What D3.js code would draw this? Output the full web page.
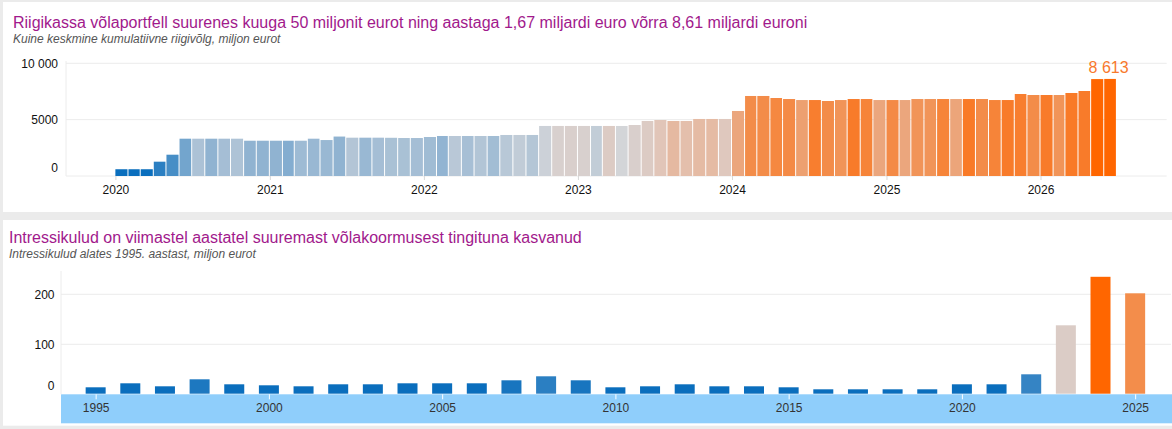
<!DOCTYPE html>
<html>
<head>
<meta charset="utf-8">
<script src="https://cdn.jsdelivr.net/npm/d3@7"></script>
<style>
  body { margin: 0; background: #ebebeb; font-family: "Liberation Sans", Arial, sans-serif; }
  svg { display: block; }
</style>
</head>
<body>
<svg id="chart" width="1172" height="429"></svg>
<script>
// Top chart: monthly average cumulative state debt, million euro (Jan 2020 .. Jun 2026)
const debtStart = [2020, 0];
const debtValues = [
    600, 600, 600, 1270, 1890, 3310, 3310, 3310, 3310, 3310, 3130, 3130,
    3130, 3130, 3130, 3310, 3190, 3500, 3400, 3400, 3400, 3390, 3370, 3370,
    3460, 3550, 3550, 3550, 3550, 3550, 3640, 3640, 3640, 4440, 4440, 4440,
    4440, 4440, 4440, 4440, 4525, 4880, 4970, 4880, 4880, 5060, 5060, 5060,
    5770, 7100, 7100, 6920, 6830, 6740, 6740, 6655, 6740, 6830, 6830, 6740,
    6740, 6740, 6830, 6830, 6830, 6830, 6830, 6830, 6740, 6740, 7276, 7187,
    7187, 7187, 7365, 7542, 8600, 8613
];
// colour value of each month (-1 blue ... 0 grey ... 1 orange)
const debtTone = [
    -1, -1, -1, -0.86, -0.74, -0.55, -0.31, -0.43, -0.34, -0.3, -0.43, -0.43,
    -0.43, -0.48, -0.37, -0.39, -0.39, -0.43, -0.26, -0.39, -0.34, -0.32, -0.32, -0.34,
    -0.36, -0.42, -0.21, -0.33, -0.27, -0.35, -0.22, -0.15, -0.25, -0.06, 0.09, 0.11,
    0.09, -0.14, 0.18, 0, 0.11, 0.18, 0.28, 0.38, 0.34, 0.37, 0.37, 0.23,
    0.52, 0.72, 0.72, 0.75, 0.73, 0.57, 0.82, 0.72, 0.66, 0.84, 0.78, 0.52,
    0.73, 0.52, 0.66, 0.66, 0.78, 0.53, 0.85, 0.72, 0.78, 0.84, 0.82, 0.72,
    0.84, 0.66, 0.85, 0.84, 1, 1
];
const debtTicks = [0, 5000, 10000];

// Bottom chart: yearly interest costs since 1995, million euro
const interestYears = d3.range(1995, 2026);
const interestValues = [
    14, 22, 16, 30, 20, 18, 16, 20, 20, 22,
    22, 22, 28, 36, 28, 14, 16, 20, 16, 16,
    14, 10, 10, 10, 10, 20, 20, 40, 138, 235, 202
];
// value stops for the blue / grey / orange colouring of the yearly bars
const interestColourStops = [22, 120, 235];
const interestTicks = [0, 100, 200];
const interestYearTicks = [1995, 2000, 2005, 2010, 2015, 2020, 2025];

const titleTop = 'Riigikassa võlaportfell suurenes kuuga 50 miljonit eurot ning aastaga 1,67 miljardi euro võrra 8,61 miljardi euroni';
const subTop = 'Kuine keskmine kumulatiivne riigivõlg, miljon eurot';
const titleBottom = 'Intressikulud on viimastel aastatel suuremast võlakoormusest tingituna kasvanud';
const subBottom = 'Intressikulud alates 1995. aastast, miljon eurot';

const palette = d3.scaleLinear()
    .domain([-1, -0.3, 0, 0.3, 1])
    .range(['#0a6ebd', '#aec3d6', '#d3d5d8', '#e2c4b6', '#ff6600']);

const numFmt = v => v >= 10000 ? d3.format(',')(v).replace(/,/g, ' ') : String(v);

const svg = d3.select('#chart');

// panels
svg.append('rect').attr('x', 3).attr('y', 2).attr('width', 1169).attr('height', 210).attr('fill', '#fff');
svg.append('rect').attr('x', 3).attr('y', 220).attr('width', 1169).attr('height', 205.7).attr('fill', '#fff');

function titles(x, y, title, sub) {
    svg.append('text')
        .attr('x', x).attr('y', y)
        .attr('font-size', 16)
        .attr('fill', '#a1198c')
        .text(title);
    svg.append('text')
        .attr('x', x).attr('y', y + 15)
        .attr('font-size', 12)
        .attr('font-style', 'italic')
        .attr('fill', '#555')
        .text(sub);
}

// ---------- top chart ----------
titles(13, 27.5, titleTop, subTop);

const months = debtValues.map((v, i) => ({
    date: new Date(debtStart[0], debtStart[1] + i, 1),
    next: new Date(debtStart[0], debtStart[1] + i + 1, 1),
    value: v,
    tone: debtTone[i]
}));

const x1 = d3.scaleTime()
    .domain([new Date(2019, 8, 6), new Date(2026, 9, 27)])
    .range([66, 1166.7]);
const y1 = d3.scaleLinear()
    .domain([0, 10000])
    .range([176, 63.3]);

const g1 = svg.append('g');

g1.selectAll('.grid')
    .data(debtTicks)
    .enter()
    .append('line')
    .attr('x1', 66).attr('x2', 1166.7)
    .attr('y1', d => y1(d)).attr('y2', d => y1(d))
    .attr('stroke', '#ececec');
g1.append('line')
    .attr('x1', 66).attr('x2', 66)
    .attr('y1', 61).attr('y2', 176)
    .attr('stroke', '#ececec');

g1.selectAll('.bar')
    .data(months)
    .enter()
    .append('rect')
    .attr('x', d => x1(d.date))
    .attr('width', d => x1(d.next) - x1(d.date) - 1)
    .attr('y', d => y1(d.value))
    .attr('height', d => y1(0) - y1(d.value))
    .attr('fill', d => palette(d.tone));

const last = months[months.length - 1];
g1.append('text')
    .attr('x', (x1(last.date) + x1(last.next)) / 2 - 2)
    .attr('y', y1(last.value) - 6)
    .attr('text-anchor', 'middle')
    .attr('font-size', 16)
    .attr('fill', '#f8792c')
    .text(d3.format(',')(last.value).replace(/,/g, ' '));

const ax1 = g1.append('g')
    .attr('transform', 'translate(0,176)')
    .call(d3.axisBottom(x1)
        .ticks(d3.timeYear.every(1))
        .tickFormat(d3.timeFormat('%Y'))
        .tickSize(4)
        .tickPadding(5));
ax1.select('.domain').remove();
ax1.selectAll('line').attr('stroke', '#d8d8d8');
ax1.selectAll('text').attr('font-size', 12).attr('fill', '#111')
    .attr('font-family', '"Liberation Sans", Arial, sans-serif');

const ay1 = g1.append('g')
    .attr('transform', 'translate(66,0)')
    .call(d3.axisLeft(y1).tickValues(debtTicks).tickFormat(numFmt).tickSize(0).tickPadding(8));
ay1.select('.domain').remove();
ay1.selectAll('text').attr('font-size', 12).attr('fill', '#111')
    .attr('font-family', '"Liberation Sans", Arial, sans-serif')
    .attr('dy', d => d === 0 ? '-0.35em' : '0.32em');

// ---------- bottom chart ----------
titles(9, 243, titleBottom, subBottom);

const x2 = d3.scaleLinear()
    .domain([1994, 2026])
    .range([61, 1169.8]);
const y2 = d3.scaleLinear()
    .domain([0, 200])
    .range([394.3, 294.3]);
const toneBottom = d3.scaleLinear()
    .domain(interestColourStops)
    .range([-1, 0, 1])
    .clamp(true);

const g2 = svg.append('g');

g2.append('rect')
    .attr('x', 61).attr('y', 394.3)
    .attr('width', 1172 - 61).attr('height', 29)
    .attr('fill', '#8fcefb');

g2.selectAll('.grid')
    .data(interestTicks.filter(d => d > 0))
    .enter()
    .append('line')
    .attr('x1', 61).attr('x2', 1171)
    .attr('y1', d => y2(d)).attr('y2', d => y2(d))
    .attr('stroke', '#ececec');
g2.append('line')
    .attr('x1', 61).attr('x2', 61)
    .attr('y1', 271).attr('y2', 394.3)
    .attr('stroke', '#ececec');

g2.selectAll('.bar')
    .data(interestYears.map((yr, i) => ({ year: yr, value: interestValues[i] })))
    .enter()
    .append('rect')
    .attr('x', d => x2(d.year) - 10)
    .attr('width', 20)
    .attr('y', d => y2(d.value))
    .attr('height', d => y2(0) - y2(d.value) - 0.6)
    .attr('fill', d => palette(toneBottom(d.value)));

const ax2 = g2.append('g')
    .attr('transform', 'translate(0,394.3)')
    .call(d3.axisBottom(x2)
        .tickValues(interestYearTicks)
        .tickFormat(d3.format('d'))
        .tickSize(5)
        .tickPadding(4));
ax2.select('.domain').remove();
ax2.selectAll('line').attr('stroke', '#fff');
ax2.selectAll('text').attr('font-size', 12).attr('fill', '#333')
    .attr('font-family', '"Liberation Sans", Arial, sans-serif');

const ay2 = g2.append('g')
    .attr('transform', 'translate(61,0)')
    .call(d3.axisLeft(y2).tickValues(interestTicks).tickSize(0).tickPadding(6.5));
ay2.select('.domain').remove();
ay2.selectAll('text').attr('font-size', 12).attr('fill', '#111')
    .attr('font-family', '"Liberation Sans", Arial, sans-serif')
    .attr('dy', d => d === 0 ? '-0.4em' : '0.32em');
</script>
</body>
</html>
